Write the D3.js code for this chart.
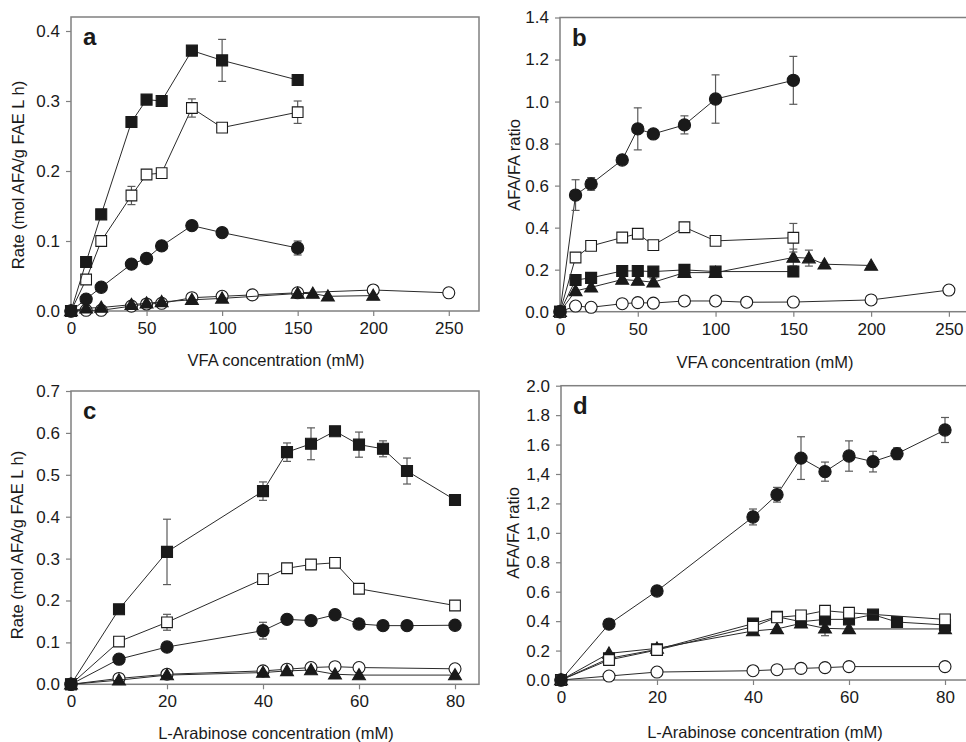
<!DOCTYPE html>
<html>
<head>
<meta charset="utf-8">
<script src="https://cdn.jsdelivr.net/npm/d3@7"></script>
<style>
  html, body { margin: 0; padding: 0; background: #fff; }
  svg { display: block; }
  text { font-family: "Liberation Sans", Arial, sans-serif; fill: #1a1a1a; }
</style>
</head>
<body>
<svg id="chart" width="966" height="742"></svg>
<script>
// ---------- Panel a: reaction rate vs VFA concentration ----------
const aX9 = [0, 10, 20, 40, 50, 60, 80, 100, 150];
const aX12o = [0, 10, 20, 40, 50, 60, 80, 100, 120, 150, 200, 250];
const aX12t = [0, 10, 20, 40, 50, 60, 80, 100, 150, 160, 170, 200];
const aFilledSquare = [0, 0.070, 0.138, 0.270, 0.302, 0.300, 0.372, 0.358, 0.330];
const aFilledSquareErr = [0, 0, 0.005, 0, 0, 0.007, 0, 0.030, 0];
const aOpenSquare = [0, 0.045, 0.100, 0.165, 0.195, 0.197, 0.290, 0.262, 0.284];
const aOpenSquareErr = [0, 0, 0, 0.013, 0, 0, 0.013, 0, 0.016];
const aFilledCircle = [0, 0.017, 0.034, 0.067, 0.075, 0.093, 0.122, 0.112, 0.090];
const aFilledCircleErr = [0, 0, 0, 0, 0, 0, 0, 0.006, 0.010];
const aOpenCircle = [0, 0.001, 0.001, 0.007, 0.010, 0.011, 0.019, 0.021, 0.023, 0.026, 0.030, 0.026];
const aTriangle = [0, 0.004, 0.005, 0.009, 0.011, 0.013, 0.016, 0.018, 0.025, 0.025, 0.021, 0.022];

// ---------- Panel b: AFA/FA ratio vs VFA concentration ----------
const bX9 = [0, 10, 20, 40, 50, 60, 80, 100, 150];
const bX12t = [0, 10, 20, 40, 50, 60, 80, 100, 150, 160, 170, 200];
const bX12o = [0, 10, 20, 40, 50, 60, 80, 100, 120, 150, 200, 250];
const bFilledCircle = [0, 0.555, 0.608, 0.722, 0.870, 0.846, 0.889, 1.012, 1.101];
const bFilledCircleErr = [0, 0.073, 0.030, 0, 0.100, 0, 0.043, 0.115, 0.114];
const bOpenSquare = [0, 0.258, 0.313, 0.353, 0.371, 0.317, 0.402, 0.337, 0.352];
const bOpenSquareErr = [0, 0, 0, 0, 0, 0, 0, 0, 0.068];
const bFilledSquare = [0, 0.151, 0.161, 0.194, 0.194, 0.191, 0.199, 0.191, 0.191];
const bTriangle = [0, 0.099, 0.116, 0.153, 0.148, 0.140, 0.186, 0.186, 0.258, 0.255, 0.226, 0.220];
const bTriangleErr = [0, 0, 0, 0, 0, 0.020, 0, 0, 0.040, 0.038, 0, 0];
const bOpenCircle = [0, 0.027, 0.021, 0.038, 0.043, 0.041, 0.051, 0.051, 0.045, 0.046, 0.056, 0.103];

// ---------- Panel c: reaction rate vs L-arabinose concentration ----------
const cX11 = [0, 10, 20, 40, 45, 50, 55, 60, 65, 70, 80];
const cX9 = [0, 10, 20, 40, 45, 50, 55, 60, 80];
const cFilledSquare = [0, 0.179, 0.316, 0.461, 0.554, 0.574, 0.604, 0.572, 0.562, 0.509, 0.440];
const cFilledSquareErr = [0, 0, 0.078, 0.022, 0.022, 0.038, 0, 0.030, 0.019, 0.031, 0];
const cOpenSquare = [0, 0.102, 0.148, 0.251, 0.277, 0.286, 0.290, 0.228, 0.188];
const cOpenSquareErr = [0, 0, 0.019, 0, 0, 0, 0, 0, 0];
const cFilledCircle = [0, 0.060, 0.089, 0.128, 0.155, 0.152, 0.166, 0.144, 0.140, 0.140, 0.141];
const cFilledCircleErr = [0, 0, 0, 0.020, 0, 0, 0.010, 0, 0, 0, 0];
const cOpenCircle = [0, 0.014, 0.024, 0.032, 0.036, 0.040, 0.042, 0.040, 0.037];
const cTriangle = [0, 0.010, 0.022, 0.028, 0.032, 0.034, 0.024, 0.022, 0.022];

// ---------- Panel d: AFA/FA ratio vs L-arabinose concentration ----------
const dX11 = [0, 10, 20, 40, 45, 50, 55, 60, 65, 70, 80];
const dX9 = [0, 10, 20, 40, 45, 50, 55, 60, 80];
const dFilledCircle = [0, 0.380, 0.605, 1.108, 1.259, 1.508, 1.416, 1.522, 1.484, 1.538, 1.699];
const dFilledCircleErr = [0, 0, 0, 0.054, 0.050, 0.145, 0.065, 0.103, 0.070, 0.040, 0.085];
const dOpenSquare = [0, 0.136, 0.204, 0.362, 0.426, 0.439, 0.471, 0.457, 0.412];
const dOpenSquareErr = [0, 0, 0.030, 0, 0, 0, 0, 0, 0];
const dFilledSquare = [0, 0.147, 0.208, 0.383, 0.430, 0.396, 0.412, 0.412, 0.444, 0.394, 0.374];
const dTriangle = [0, 0.181, 0.215, 0.333, 0.347, 0.385, 0.351, 0.347, 0.347];
const dTriangleErr = [0, 0, 0, 0, 0, 0, 0.050, 0, 0];
const dOpenCircle = [0, 0.027, 0.054, 0.063, 0.070, 0.079, 0.084, 0.091, 0.091];

// ---------- Tick labels ----------
const vfaTicks = [0, 50, 100, 150, 200, 250];
const araTicks = [0, 20, 40, 60, 80];
const aYTicks = ["0.0", "0.1", "0.2", "0.3", "0.4"];
const bYTicks = ["0.0", "0.2", "0.4", "0.6", "0.8", "1.0", "1.2", "1.4"];
const cYTicks = ["0.0", "0.1", "0.2", "0.3", "0.4", "0.5", "0.6", "0.7"];
const dYTicks = ["0.0", "0.2", "0.4", "0.6", "0.8", "1,0", "1,2", "1,4", "1.6", "1.8", "2.0"];

const svg = d3.select("#chart");

const symbols = {
  fsq: { type: d3.symbolSquare, size: 121, fill: "#1a1a1a" },
  osq: { type: d3.symbolSquare, size: 115, fill: "#ffffff" },
  fci: { type: d3.symbolCircle, size: 118, fill: "#1a1a1a" },
  oci: { type: d3.symbolCircle, size: 113, fill: "#ffffff" },
  tri: { type: d3.symbolTriangle, size: 72, fill: "#1a1a1a" }
};

function panel(cfg) {
  const x = d3.scaleLinear().domain(cfg.xDomain).range([cfg.left, cfg.right]);
  const y = d3.scaleLinear().domain(cfg.yDomain).range([cfg.bottom, cfg.top]);
  const g = svg.append("g");

  // frame
  g.append("rect")
    .attr("x", cfg.left).attr("y", cfg.top)
    .attr("width", cfg.right - cfg.left).attr("height", cfg.bottom - cfg.top)
    .attr("fill", "none").attr("stroke", "#808080").attr("stroke-width", 1.5);

  // axes
  const yVals = cfg.yLabels.map(s => parseFloat(s.replace(",", ".")));
  const yAxis = d3.axisLeft(y).tickValues(yVals).tickSize(5).tickPadding(6)
    .tickFormat((d, i) => cfg.yLabels[i]);
  const xAxis = d3.axisBottom(x).tickValues(cfg.xTicks).tickSize(5).tickPadding(6)
    .tickFormat(d3.format("d"));
  const ya = g.append("g").attr("transform", `translate(${cfg.left},0)`).call(yAxis);
  const xa = g.append("g").attr("transform", `translate(0,${cfg.bottom})`).call(xAxis);
  [ya, xa].forEach(a => {
    a.select(".domain").remove();
    a.selectAll(".tick line").attr("stroke", "#808080").attr("stroke-width", 1.2);
    a.selectAll(".tick text").attr("font-size", 17).attr("fill", "#1a1a1a")
      .style("font-family", '"Liberation Sans", Arial, sans-serif');
  });

  // series
  cfg.series.forEach(s => {
    const pts = s.x.map((xv, i) => ({ x: xv, y: s.y[i], e: s.err ? s.err[i] : 0 }));
    g.append("path")
      .datum(pts)
      .attr("fill", "none").attr("stroke", "#2a2a2a").attr("stroke-width", 1)
      .attr("d", d3.line().x(d => x(d.x)).y(d => y(d.y)));
    const eb = pts.filter(d => d.e > 0);
    const eg = g.append("g").attr("stroke", "#5a5a5a").attr("stroke-width", 1.2);
    eg.selectAll("line.v").data(eb).join("line")
      .attr("x1", d => x(d.x)).attr("x2", d => x(d.x))
      .attr("y1", d => y(d.y - d.e)).attr("y2", d => y(d.y + d.e));
    eg.selectAll("line.t").data(eb).join("line")
      .attr("x1", d => x(d.x) - 4).attr("x2", d => x(d.x) + 4)
      .attr("y1", d => y(d.y + d.e)).attr("y2", d => y(d.y + d.e));
    eg.selectAll("line.b").data(eb).join("line")
      .attr("x1", d => x(d.x) - 4).attr("x2", d => x(d.x) + 4)
      .attr("y1", d => y(d.y - d.e)).attr("y2", d => y(d.y - d.e));
    const sym = symbols[s.shape];
    const yOff = s.shape === "tri" ? 1 : 0;
    g.append("g").selectAll("path").data(pts).join("path")
      .attr("transform", d => `translate(${x(d.x)},${y(d.y) + yOff})`)
      .attr("d", d3.symbol().type(sym.type).size(sym.size))
      .attr("fill", sym.fill).attr("stroke", "#1a1a1a").attr("stroke-width", 1.1);
  });

  // panel letter
  g.append("text").attr("x", cfg.left + 12).attr("y", cfg.top + 28)
    .attr("font-size", 24).attr("font-weight", "bold").text(cfg.letter);

  // axis titles
  g.append("text").attr("x", cfg.xTitleX).attr("y", cfg.xTitleY)
    .attr("text-anchor", "middle").attr("font-size", 16.5).text(cfg.xTitle);
  g.append("text")
    .attr("transform", `translate(${cfg.yTitleX},${cfg.yTitleY}) rotate(-90)`)
    .attr("text-anchor", "middle").attr("font-size", 16.5).text(cfg.yTitle);
}

panel({
  letter: "a", left: 71, right: 479, top: 17, bottom: 311,
  xDomain: [0, 270], yDomain: [0, 0.42], xTicks: vfaTicks, yLabels: aYTicks,
  xTitle: "VFA concentration (mM)", xTitleX: 276, xTitleY: 366,
  yTitle: "Rate (mol AFA/g FAE L h)", yTitleX: 24, yTitleY: 175,
  series: [
    { shape: "oci", x: aX12o, y: aOpenCircle },
    { shape: "tri", x: aX12t, y: aTriangle },
    { shape: "fci", x: aX9, y: aFilledCircle, err: aFilledCircleErr },
    { shape: "osq", x: aX9, y: aOpenSquare, err: aOpenSquareErr },
    { shape: "fsq", x: aX9, y: aFilledSquare, err: aFilledSquareErr }
  ]
});

panel({
  letter: "b", left: 560, right: 980, top: 17.5, bottom: 311.7,
  xDomain: [0, 270], yDomain: [0, 1.4], xTicks: vfaTicks, yLabels: bYTicks,
  xTitle: "VFA concentration (mM)", xTitleX: 765, xTitleY: 368,
  yTitle: "AFA/FA ratio", yTitleX: 520, yTitleY: 165,
  series: [
    { shape: "oci", x: bX12o, y: bOpenCircle },
    { shape: "tri", x: bX12t, y: bTriangle, err: bTriangleErr },
    { shape: "fsq", x: bX9, y: bFilledSquare },
    { shape: "osq", x: bX9, y: bOpenSquare, err: bOpenSquareErr },
    { shape: "fci", x: bX9, y: bFilledCircle, err: bFilledCircleErr }
  ]
});

panel({
  letter: "c", left: 71, right: 479, top: 391, bottom: 684.3,
  xDomain: [0, 85], yDomain: [0, 0.7], xTicks: araTicks, yLabels: cYTicks,
  xTitle: "L-Arabinose concentration (mM)", xTitleX: 276, xTitleY: 739,
  yTitle: "Rate (mol AFA/g FAE L h)", yTitleX: 23, yTitleY: 545,
  series: [
    { shape: "oci", x: cX9, y: cOpenCircle },
    { shape: "tri", x: cX9, y: cTriangle },
    { shape: "fci", x: cX11, y: cFilledCircle, err: cFilledCircleErr },
    { shape: "osq", x: cX9, y: cOpenSquare, err: cOpenSquareErr },
    { shape: "fsq", x: cX11, y: cFilledSquare, err: cFilledSquareErr }
  ]
});

panel({
  letter: "d", left: 561, right: 969, top: 385.7, bottom: 680,
  xDomain: [0, 85], yDomain: [0, 2.0], xTicks: araTicks, yLabels: dYTicks,
  xTitle: "L-Arabinose concentration (mM)", xTitleX: 765, xTitleY: 738,
  yTitle: "AFA/FA ratio", yTitleX: 519, yTitleY: 533,
  series: [
    { shape: "oci", x: dX9, y: dOpenCircle },
    { shape: "tri", x: dX9, y: dTriangle, err: dTriangleErr },
    { shape: "fsq", x: dX11, y: dFilledSquare },
    { shape: "osq", x: dX9, y: dOpenSquare, err: dOpenSquareErr },
    { shape: "fci", x: dX11, y: dFilledCircle, err: dFilledCircleErr }
  ]
});
</script>
</body>
</html>
